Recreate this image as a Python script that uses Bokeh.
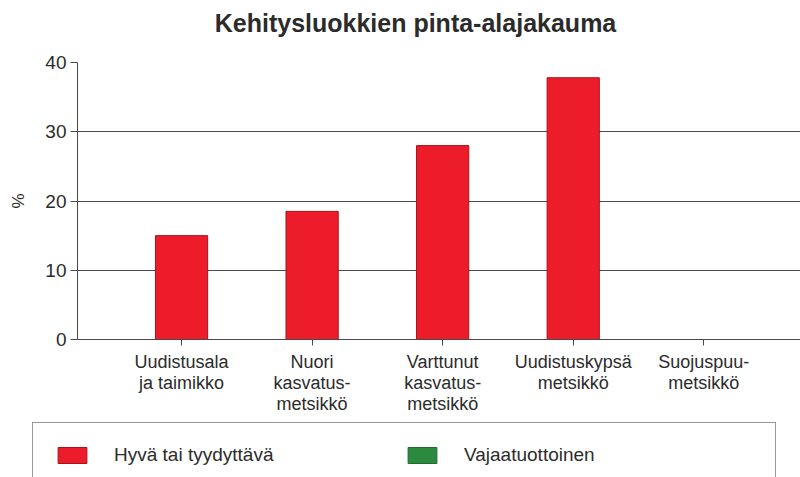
from bokeh.plotting import figure
from bokeh.models import Range1d, FixedTicker, Legend, LegendItem, ColumnDataSource, Label
from bokeh.embed import file_html
from bokeh.resources import INLINE

# ---- data ----
title_text = "Kehitysluokkien pinta-alajakauma"
positions = [1, 2, 3, 4, 5]
categories = [
    "Uudistusala\nja taimikko",
    "Nuori\nkasvatus-\nmetsikkö",
    "Varttunut\nkasvatus-\nmetsikkö",
    "Uudistuskypsä\nmetsikkö",
    "Suojuspuu-\nmetsikkö",
]
good_values = [15.0, 18.5, 28.0, 37.8, 0.0]      # Hyvä tai tyydyttävä
poor_values = [0.0, 0.0, 0.0, 0.0, 0.0]          # Vajaatuottoinen
y_ticks = [0, 10, 20, 30, 40]
series_names = ["Hyvä tai tyydyttävä", "Vajaatuottoinen"]
series_colors = ["#ec1c2a", "#2b8a3e"]
series_lines = ["#a8121c", "#1f6a2e"]

FONT = "Liberation Sans"
TXT = "#2b2b2b"
GRID = "#4a4a4a"


def strip(height, xr, yr):
    f = figure(width=800, height=height, x_axis_type=None, y_axis_type=None,
               x_range=xr, y_range=yr, output_backend="svg", toolbar_location=None,
               min_border=0, min_border_left=0, min_border_right=0,
               min_border_top=0, min_border_bottom=0)
    f.outline_line_color = None
    f.xgrid.grid_line_color = None
    f.ygrid.grid_line_color = None
    f.background_fill_color = "white"
    f.border_fill_color = "white"
    return f


# ---- title strip ----
tf = strip(40, Range1d(0, 800), Range1d(0, 40))
tf.add_layout(Label(x=415, y=18, text=title_text, text_align="center",
                    text_baseline="middle", text_font=FONT, text_font_size="25px",
                    text_font_style="bold", text_color=TXT))

# ---- main chart ----
p = figure(
    width=800, height=380,
    x_range=Range1d(0.203, 5.741), y_range=Range1d(0, 40),
    output_backend="svg", toolbar_location=None,
    min_border_left=77, min_border_top=22, min_border_bottom=81, min_border_right=0,
)
p.outline_line_color = None
p.background_fill_color = "white"
p.border_fill_color = "white"

src = ColumnDataSource(dict(x=positions, good=good_values, poor=poor_values))
p.vbar(x="x", top="good", width=0.4, source=src,
       fill_color=series_colors[0], line_color=series_lines[0], line_width=1)
p.vbar(x="x", top="poor", width=0.4, source=src,
       fill_color=series_colors[1], line_color=None)

p.yaxis.ticker = FixedTicker(ticks=y_ticks)
p.yaxis.axis_label = "%"
p.yaxis.axis_label_text_font = FONT
p.yaxis.axis_label_text_font_style = "normal"
p.yaxis.axis_label_text_font_size = "17px"
p.yaxis.axis_label_text_color = TXT
p.yaxis.axis_label_standoff = 14
p.yaxis.major_label_text_font = FONT
p.yaxis.major_label_text_font_size = "19px"
p.yaxis.major_label_text_color = TXT
p.yaxis.major_label_standoff = 4
p.yaxis.major_tick_in = 0
p.yaxis.major_tick_out = 7
p.yaxis.minor_tick_line_color = None
p.yaxis.axis_line_color = GRID
p.yaxis.major_tick_line_color = GRID

p.xaxis.ticker = FixedTicker(ticks=positions)
p.xaxis.major_label_overrides = {pos: lab for pos, lab in zip(positions, categories)}
p.xaxis.major_label_text_font = FONT
p.xaxis.major_label_text_font_size = "18px"
p.xaxis.major_label_text_color = TXT
p.xaxis.major_label_text_line_height = 1.05
p.xaxis.major_label_standoff = 6
p.xaxis.major_tick_in = 0
p.xaxis.major_tick_out = 6
p.xaxis.minor_tick_line_color = None
p.xaxis.axis_line_color = GRID
p.xaxis.major_tick_line_color = GRID

p.xgrid.grid_line_color = None
p.ygrid.grid_line_color = GRID
p.ygrid.grid_line_width = 1

# ---- legend strip (box runs past the bottom edge, as in the reference) ----
# the strip's own view is far away from the data, so only the legend shows
lg = strip(57, Range1d(1000, 1001), Range1d(1000, 1001))
lr_good = lg.vbar(x="x", top="good", width=0.4, source=src,
                  fill_color=series_colors[0], line_color=series_lines[0])
lr_poor = lg.vbar(x="x", top="good", width=0.4, source=src,
                  fill_color=series_colors[1], line_color=series_lines[1])
legend = Legend(
    items=[LegendItem(label=series_names[0], renderers=[lr_good]),
           LegendItem(label=series_names[1], renderers=[lr_poor])],
    location=(32, -11), orientation="horizontal",
    padding=21, margin=0, spacing=0,
    glyph_width=36, glyph_height=20, label_standoff=24, label_width=290,
    label_text_font=FONT, label_text_font_size="19px", label_text_color=TXT,
    border_line_color="#333333", border_line_width=1,
    background_fill_color="white", background_fill_alpha=1.0,
)
lg.add_layout(legend, "center")

open("out.html", "w").write(file_html([tf, p, lg], INLINE, title="Kehitysluokkien pinta-alajakauma"))
